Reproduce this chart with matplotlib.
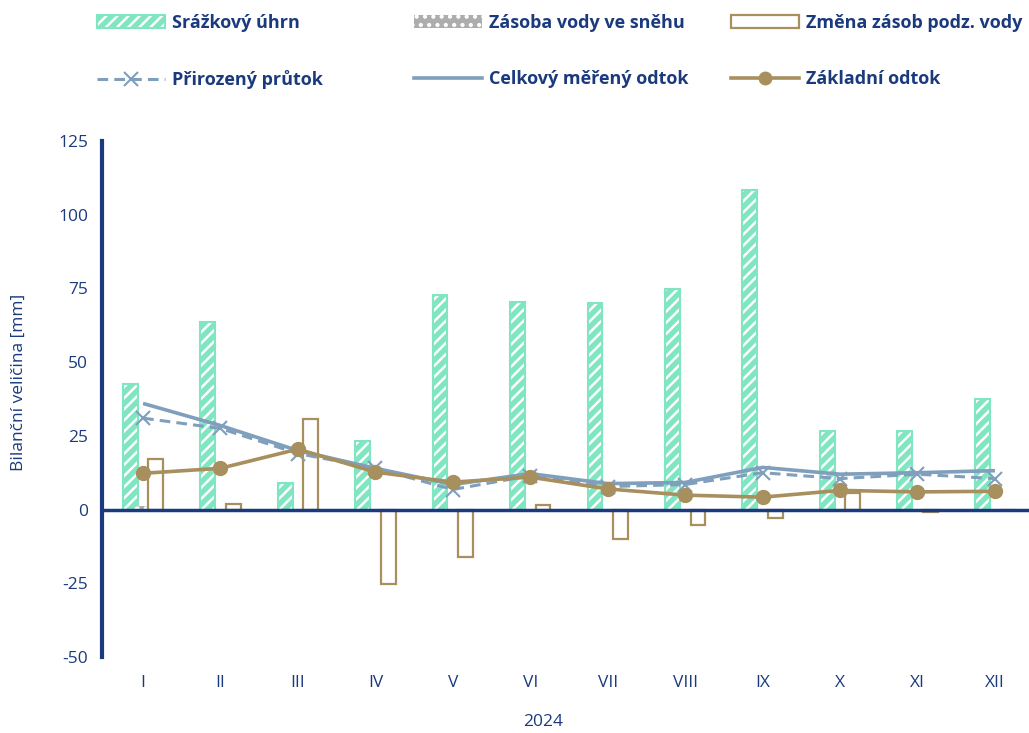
import matplotlib
matplotlib.use("Agg")
import matplotlib.pyplot as plt
import numpy as np
from matplotlib.patches import Patch
from matplotlib.lines import Line2D
from matplotlib.legend_handler import HandlerTuple

plt.rcParams['font.family'] = ['Open Sans', 'DejaVu Sans']
plt.rcParams['hatch.linewidth'] = 1.8
plt.rcParams['axes.unicode_minus'] = False

months = ['I', 'II', 'III', 'IV', 'V', 'VI', 'VII', 'VIII', 'IX', 'X', 'XI', 'XII']
srazky = [42.5, 63.5, 8.9, 23.4, 72.7, 70.3, 70.0, 74.7, 108.4, 26.8, 26.8, 37.4]
snih = [1.3, 0, 0, 0, 0, 0, 0, 0, 0, 0, 0, 0]
podz = [17.0, 2.0, 30.6, -25.1, -16.0, 1.7, -10.0, -5.4, -3.0, 5.5, -0.8, 0.0]
prirozeny = [31.0, 27.5, 19.0, 14.0, 6.8, 11.5, 7.8, 8.5, 12.5, 10.5, 12.0, 10.5]
celkovy = [36.0, 28.5, 20.0, 14.0, 8.5, 12.2, 8.8, 9.2, 14.3, 12.0, 12.5, 13.2]
zakladni = [12.3, 14.0, 20.5, 12.7, 9.3, 11.0, 7.0, 4.9, 4.2, 6.5, 6.0, 6.2]
yticks = [-50, -25, 0, 25, 50, 75, 100, 125]

navy = '#1b3a7e'
green = '#80e5c1'
gold = '#a88f5e'
blue = '#7f9fbd'
gray = '#adadad'

fig = plt.figure(figsize=(10.29, 7.33), dpi=100)
ax = fig.add_axes([102/1029, 76/733, 927/1029, 516/733])

x = np.arange(len(months))
w = 0.19
off = 0.165
HATCH = '///'

ax.bar(x - off, srazky, w, facecolor=green, edgecolor='white', hatch=HATCH, linewidth=0, zorder=2)
ax.bar(x - off, srazky, w, facecolor='none', edgecolor=green, linewidth=1.5, zorder=2)
ax.bar(x, snih, w, facecolor=gray, edgecolor='white', hatch='..', linewidth=0, zorder=2)
ax.bar(x + off, podz, w, facecolor='white', edgecolor=gold, linewidth=1.6, zorder=2)

ax.plot(x, celkovy, color=blue, lw=2.6, zorder=3, solid_capstyle='butt')
ax.plot(x, prirozeny, color=blue, lw=2.2, ls=(0, (3.5, 2)), marker='x', ms=10, mew=1.5, zorder=4)
ax.plot(x, zakladni, color=gold, lw=2.6, marker='o', ms=10, zorder=5)

ax.axhline(0, color=navy, lw=2.5, zorder=6)

ax.set_xlim(-0.53, 11.44)
ax.set_ylim(-50, 125)
ax.set_yticks(yticks)
ax.set_xticks(x)
ax.set_xticklabels(months)
ax.tick_params(axis='both', length=0, labelsize=12.5, colors=navy)
ax.tick_params(axis='y', pad=10)
ax.tick_params(axis='x', pad=13)
for s in ['top', 'right', 'bottom']:
    ax.spines[s].set_visible(False)
ax.spines['left'].set_color(navy)
ax.spines['left'].set_linewidth(3)
ax.set_ylabel('Bilanční veličina [mm]', fontsize=12.5, color=navy)
ax.yaxis.set_label_coords(-75/927, 0.533)
fig.text(543/1029, 1 - 722/733, '2024', fontsize=12.5, color=navy, ha='center', va='center')

h_sr = (Patch(facecolor=green, edgecolor='white', hatch=HATCH, linewidth=0),
        Patch(facecolor='none', edgecolor=green, linewidth=1.5))
h_sn = Patch(facecolor=gray, edgecolor='white', hatch='..', linewidth=0)
h_pd = Patch(facecolor='white', edgecolor=gold, linewidth=1.6)
h_pr = Line2D([], [], color=blue, lw=2.2, ls=(0, (3.5, 2)), marker='x', ms=10, mew=1.5)
h_ce = Line2D([], [], color=blue, lw=2.6)
h_za = Line2D([], [], color=gold, lw=2.6, marker='o', ms=9)

cols = [
    ([h_sr, h_pr], ['Srážkový úhrn', 'Přirozený průtok'], 97),
    ([h_sn, h_ce], ['Zásoba vody ve sněhu', 'Celkový měřený odtok'], 414),
    ([h_pd, h_za], ['Změna zásob podz. vody', 'Základní odtok'], 731),
]
for hs, ls, px in cols:
    leg = fig.legend(hs, ls, loc='upper left', bbox_to_anchor=(px/1029, 1 - 14/733),
                     frameon=False, borderpad=0, borderaxespad=0, handlelength=3.75,
                     handleheight=0.7, handletextpad=0.4, labelspacing=2.1,
                     prop={'weight': 'bold', 'size': 13},
                     handler_map={tuple: HandlerTuple(ndivide=1, pad=0)})
    for t in leg.get_texts():
        t.set_color(navy)

fig.savefig('out.png', dpi=100)
